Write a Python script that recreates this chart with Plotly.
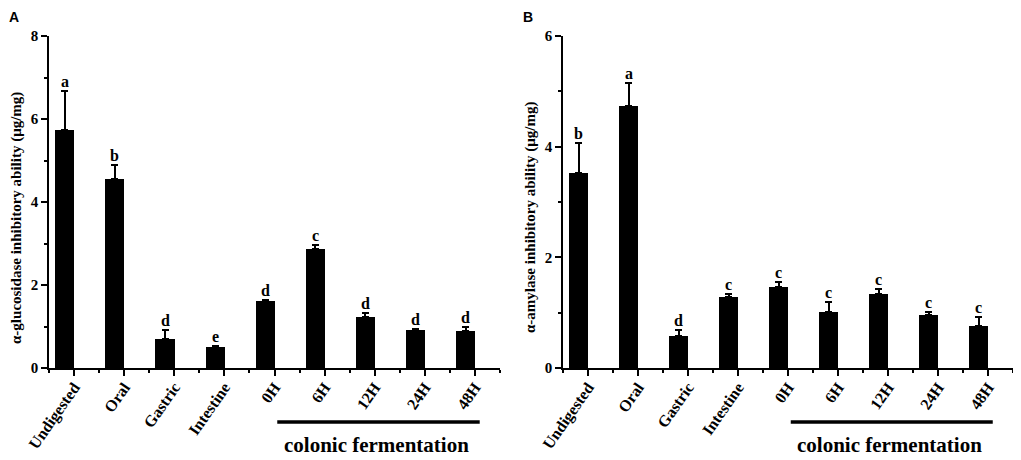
import plotly.graph_objects as go

# samples (same for both panels)
labels = ['Undigested', 'Oral', 'Gastric', 'Intestine', '0H', '6H', '12H', '24H', '48H']

# A: alpha-glucosidase inhibitory ability (ug/mg)
gluc_mean = [5.73, 4.56, 0.69, 0.50, 1.62, 2.86, 1.24, 0.92, 0.90]
gluc_err = [0.95, 0.32, 0.23, 0.02, 0.02, 0.10, 0.09, 0.02, 0.10]
gluc_sig = ['a', 'b', 'd', 'e', 'd', 'c', 'd', 'd', 'd']

# B: alpha-amylase inhibitory ability (ug/mg)
amyl_mean = [3.52, 4.74, 0.57, 1.29, 1.47, 1.02, 1.33, 0.96, 0.76]
amyl_err = [0.54, 0.41, 0.12, 0.05, 0.08, 0.17, 0.09, 0.06, 0.16]
amyl_sig = ['b', 'a', 'd', 'c', 'c', 'c', 'c', 'c', 'c']

serif = 'Liberation Serif'
xpos = list(range(len(labels)))

# page body has an 8px margin, so the figure is drawn 8px smaller
W, H, OFF = 1013, 452, 8


def px(x):
    return (x - OFF) / W


def py(y):
    # page pixel row -> paper fraction (plot area is rows 36..368)
    return (368 - y) / 332


fig = go.Figure()

panels = [
    ('x', 'y', gluc_mean, gluc_err, gluc_sig, 8,
     'α-glucosidase inhibitory ability (μg/mg)', 'A', 49, 500),
    ('x2', 'y2', amyl_mean, amyl_err, amyl_sig, 6,
     'α-amylase inhibitory ability (μg/mg)', 'B', 563, 1013),
]

for k, (xa, ya, mean, err, sig, ymax, ytitle, tag, left, right) in enumerate(panels):
    fig.add_trace(go.Bar(
        x=xpos, y=mean, xaxis=xa, yaxis=ya,
        width=0.38,
        marker=dict(color='black', line=dict(width=0)),
        error_y=dict(type='data', symmetric=False, array=err,
                     arrayminus=[0] * len(err),
                     color='black', thickness=2, width=3.5),
        showlegend=False,
    ))

    # significance letters
    for i in xpos:
        fig.add_annotation(
            x=i, y=mean[i] + err[i], xref=xa, yref=ya,
            text=sig[i], showarrow=False, xanchor='center', yanchor='bottom',
            yshift=-1,
            font=dict(family=serif, size=16, color='black', weight='bold'),
        )

    # colonic fermentation bracket
    fig.add_shape(type='line', xref=xa, yref='paper',
                  x0=4.24, x1=8.28, y0=py(422), y1=py(422),
                  line=dict(color='black', width=3.5))
    fig.add_annotation(
        x=6.22, y=py(445), xref=xa, yref='paper',
        text='colonic fermentation', showarrow=False,
        xanchor='center', yanchor='middle',
        font=dict(family=serif, size=21, color='black', weight='bold'),
    )

    # y title
    fig.add_annotation(
        x=px(left - 32), y=py(218), xref='paper', yref='paper',
        text=ytitle, textangle=-90, showarrow=False,
        xanchor='center', yanchor='middle',
        font=dict(family=serif, size=15, color='black', weight='bold'),
    )

    # panel tag
    fig.add_annotation(
        x=px(left - 35), y=py(17), xref='paper', yref='paper',
        text=tag, showarrow=False, xanchor='center', yanchor='middle',
        font=dict(family='Liberation Sans', size=14, color='black', weight='bold'),
    )

    axis_x = dict(
        domain=[px(left), px(right)],
        range=[-0.315, 8.685],
        tickmode='array',
        tickvals=[i + 0.185 for i in xpos],
        ticktext=labels,
        tickangle=-55,
        ticklabelstandoff=-4,
        tickfont=dict(family=serif, size=16, color='black', weight='bold'),
        ticks='outside', ticklen=6, tickwidth=1.5, tickcolor='black',
        minor=dict(tickvals=[i - 0.315 for i in range(len(labels) + 1)],
                   ticks='outside', ticklen=3, tickwidth=1.5, tickcolor='black'),
        showline=True, linecolor='black', linewidth=1.5,
        showgrid=False, zeroline=False, automargin=False,
        anchor=ya,
    )
    axis_y = dict(
        range=[0, ymax],
        dtick=2,
        tickfont=dict(family=serif, size=15, color='black', weight='bold'),
        ticks='outside', ticklen=6, tickwidth=1.5, tickcolor='black',
        minor=dict(dtick=1, ticks='outside', ticklen=3, tickwidth=1.5,
                   tickcolor='black'),
        showline=True, linecolor='black', linewidth=1.5,
        showgrid=False, zeroline=False, automargin=False,
        anchor=xa,
    )
    if k == 0:
        fig.update_layout(xaxis=axis_x, yaxis=axis_y)
    else:
        fig.update_layout(xaxis2=axis_x, yaxis2=axis_y)

fig.update_layout(
    width=W, height=H,
    margin=dict(l=0, r=0, t=36 - OFF, b=H - (368 - OFF), autoexpand=False),
    paper_bgcolor='white', plot_bgcolor='white',
    bargap=0,
)

fig.write_html('out.html')
